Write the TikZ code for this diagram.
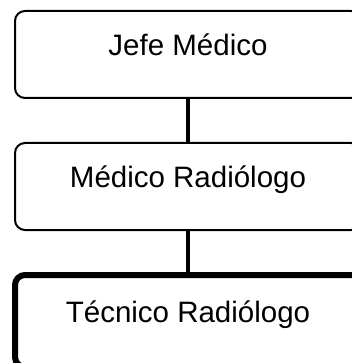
\documentclass[tikz,border=0pt]{standalone}
\usepackage{fontspec}
\setmainfont{Liberation Sans}

\begin{document}
\begin{tikzpicture}[x=1pt,y=-1pt]

    \tikzset{
      BoxStyle/.style = { rectangle, rounded corners = 10pt, draw,
                          line width = 2pt, inner sep = 0pt,
                          minimum width = 346pt, minimum height = 87pt,
                          text height = 20pt, text depth = 18pt,
                          font = \fontsize{29.5}{35}\selectfont },
      EdgeStyle/.style = { line width = 4pt } }
      \useasboundingbox (0,0) rectangle (351,363);

      \node[BoxStyle] (jefe) at (188,54.5) {Jefe Médico};
      \node[BoxStyle] (medico) at (188,186.5) {Médico Radiólogo};
      \node[BoxStyle, line width = 6pt, minimum height = 92pt] (tecnico) at (188,321) {Técnico Radiólogo};

      \draw[EdgeStyle] (jefe) -- (medico);
      \draw[EdgeStyle] (medico) -- (tecnico);
    \end{tikzpicture}
\end{document}
